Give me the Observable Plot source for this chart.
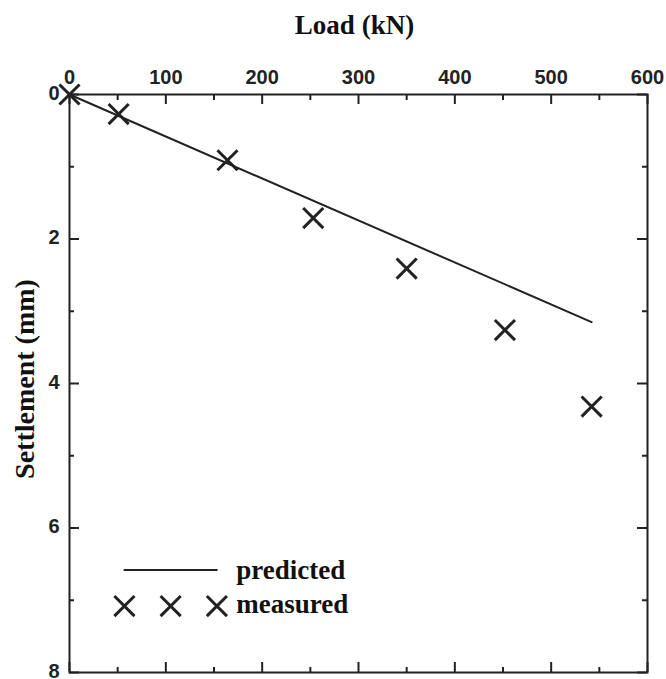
<!DOCTYPE html>
<html>
<head>
<meta charset="utf-8">
<script src="https://cdn.jsdelivr.net/npm/d3@7"></script>
<script src="https://cdn.jsdelivr.net/npm/@observablehq/plot@0.6"></script>
<style>
  html, body { margin: 0; padding: 0; background: #fff; }
</style>
</head>
<body>
<div id="chart"></div>
<script>
// Measured load–settlement data
const loads = [0, 51, 164, 253, 350, 452, 542];
const measured = [0, 0.27, 0.91, 1.71, 2.41, 3.26, 4.32];
// Predicted line
const predLoads = [0, 542];
const predicted = [0, 3.15];
// Tick values
const xMajor = [0, 100, 200, 300, 400, 500, 600];
const xMinor = [50, 150, 250, 350, 450, 550];
const yMajor = [0, 2, 4, 6, 8];
const yMinor = [1, 3, 5, 7];
// Legend entries
const legendLabels = ["predicted", "measured"];
const legendLineX = [57, 153];
const legendLineY = [6.58, 6.58];
const legendMarkX = [57, 105, 153];
const legendMarkY = [7.08, 7.08, 7.08];
const legendTextX = [173, 173];
const legendTextY = [6.58, 7.05];

const width = 666, height = 679;
const mL = 69, mR = 19, mT = 94, mB = 7;
const innerW = width - mL - mR;
const innerH = height - mT - mB;

const ink = "#222";
const serif = "Liberation Serif";

const measuredData = loads.map((x, i) => ({x, y: measured[i]}));
const predData = predLoads.map((x, i) => ({x, y: predicted[i]}));

const chart = Plot.plot({
  width, height,
  marginLeft: mL, marginRight: mR, marginTop: mT, marginBottom: mB,
  style: {fontFamily: "Liberation Sans", fontSize: "20px", fontWeight: "bold", color: ink, background: "#fff"},
  x: {domain: [0, 600]},
  y: {domain: [0, 8], reverse: true},
  marks: [
    // inward ticks
    Plot.tickX(xMajor, {x: d => d, insetBottom: innerH - 10, stroke: ink, strokeWidth: 2}),
    Plot.tickX(xMinor, {x: d => d, insetBottom: innerH - 6, stroke: ink, strokeWidth: 2}),
    Plot.tickX(xMajor, {x: d => d, insetTop: innerH - 10, stroke: ink, strokeWidth: 2}),
    Plot.tickX(xMinor, {x: d => d, insetTop: innerH - 5, stroke: ink, strokeWidth: 2}),
    Plot.tickY(yMajor, {y: d => d, insetRight: innerW - 10, stroke: ink, strokeWidth: 2}),
    Plot.tickY(yMinor, {y: d => d, insetRight: innerW - 5, stroke: ink, strokeWidth: 2}),
    Plot.tickY(yMajor, {y: d => d, insetLeft: innerW - 10, stroke: ink, strokeWidth: 2}),
    Plot.tickY(yMinor, {y: d => d, insetLeft: innerW - 5, stroke: ink, strokeWidth: 2}),
    Plot.frame({stroke: ink, strokeWidth: 2}),
    Plot.axisX(xMajor, {anchor: "top", tickSize: 0, tickPadding: 11, label: null, tickFormat: d => String(d), fontSize: 20, fontWeight: "bold", fill: ink}),
    Plot.axisY(yMajor, {anchor: "left", tickSize: 0, tickPadding: 10, dy: -1, label: null, tickFormat: d => String(d), fontSize: 20, fontWeight: "bold", fill: ink}),
    // axis titles
    Plot.text(["Load (kN)"], {frameAnchor: "top", dx: -4, dy: -(mT - 33), lineAnchor: "bottom",
      fontFamily: serif, fontSize: 27, fontWeight: "bold", fill: "#111"}),
    Plot.text(["Settlement (mm)"], {frameAnchor: "left", textAnchor: "middle", rotate: -90, dx: -(mL - 33), dy: -4.5, lineAnchor: "bottom",
      fontFamily: serif, fontSize: 28, fontWeight: "bold", fill: "#111"}),
    // data
    Plot.line(predData, {x: "x", y: "y", stroke: ink, strokeWidth: 2}),
    Plot.dot(measuredData, {x: "x", y: "y", symbol: "times", r: 9.2, stroke: ink, strokeWidth: 3}),
    // legend
    Plot.line(legendLineX.map((x, i) => ({x, y: legendLineY[i]})), {x: "x", y: "y", stroke: ink, strokeWidth: 2}),
    Plot.dot(legendMarkX.map((x, i) => ({x, y: legendMarkY[i]})), {x: "x", y: "y", symbol: "times", r: 9.2, stroke: ink, strokeWidth: 3}),
    Plot.text(legendLabels.map((t, i) => ({t, x: legendTextX[i], y: legendTextY[i]})), {x: "x", y: "y", text: "t", textAnchor: "start",
      fontFamily: serif, fontSize: 27, fontWeight: "bold", fill: "#111"})
  ]
});
document.getElementById("chart").appendChild(chart);
</script>
</body>
</html>
